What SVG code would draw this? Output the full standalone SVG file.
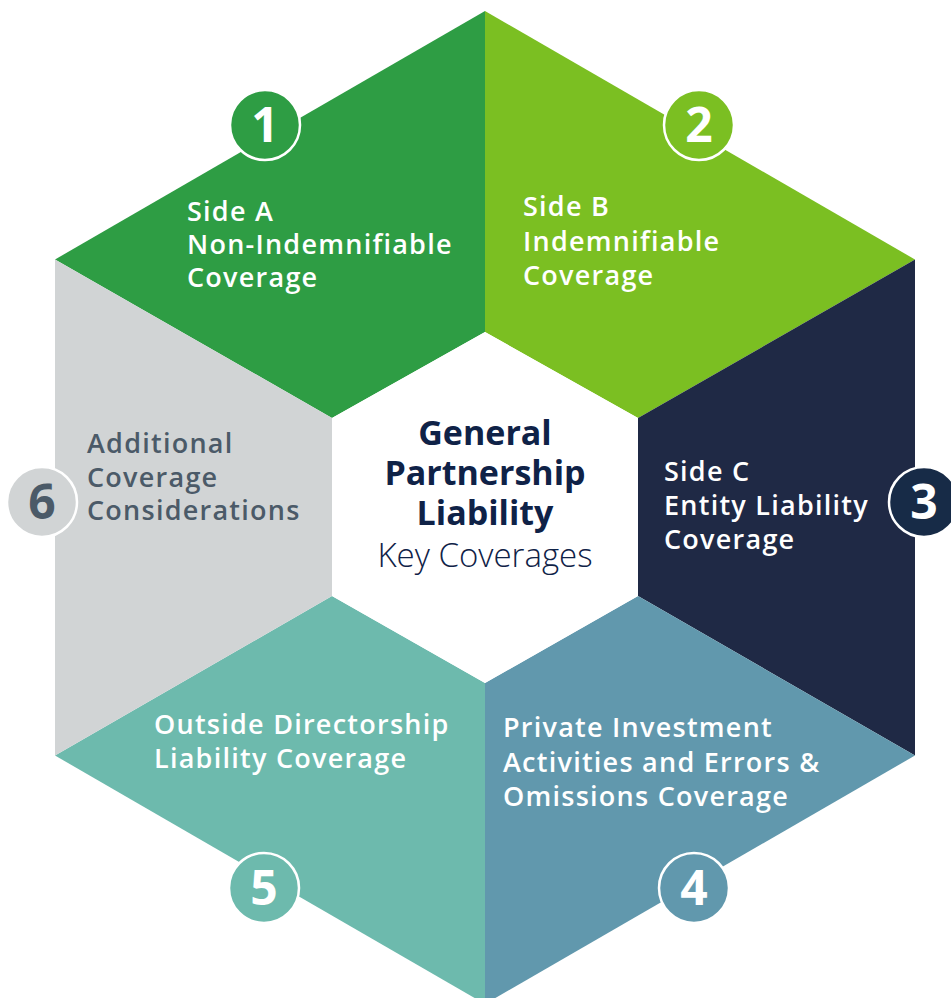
<svg xmlns="http://www.w3.org/2000/svg" width="951" height="998" viewBox="0 0 951 998">
  <style>
    .seg { stroke: none; }
    .lbl { font-family: "Open Sans", "Liberation Sans", sans-serif; font-weight: 600; font-size: 27px; letter-spacing: 1.25px; fill: #ffffff; }
    .lbl-dark { fill: #4b5a68; }
    .badge { stroke: #ffffff; stroke-width: 2.5; }
    .num { font-family: "Open Sans", "Liberation Sans", sans-serif; font-weight: 700; font-size: 48px; fill: #ffffff; text-anchor: middle; }
    .title { font-family: "Open Sans", "Liberation Sans", sans-serif; font-weight: 700; font-size: 34px; fill: #0f2247; text-anchor: middle; }
    .subtitle { font-family: "Open Sans", "Liberation Sans", sans-serif; font-weight: 300; font-size: 33px; fill: #0f2247; text-anchor: middle; }
  </style>

  <!-- Segment 1: Side A -->
  <g id="node-1">
    <polygon class="seg" fill="#2e9d44" points="485,11 55,259.5 332,418 485,332"/>
    <text class="lbl" x="187" y="221">Side A</text>
    <text class="lbl" x="187" y="254">Non-Indemnifiable</text>
    <text class="lbl" x="187" y="287">Coverage</text>
    <circle class="badge" cx="265" cy="125" r="35" fill="#2e9d44"/>
    <text class="num" x="265" y="142">1</text>
  </g>

  <!-- Segment 2: Side B -->
  <g id="node-2">
    <polygon class="seg" fill="#7bbf22" points="485,11 915,259.5 638,418 485,332"/>
    <text class="lbl" x="523" y="216">Side B</text>
    <text class="lbl" x="523" y="251">Indemnifiable</text>
    <text class="lbl" x="523" y="285">Coverage</text>
    <circle class="badge" cx="699" cy="125" r="35" fill="#7bbf22"/>
    <text class="num" x="699" y="142">2</text>
  </g>

  <!-- Segment 3: Side C -->
  <g id="node-3">
    <polygon class="seg" fill="#1f2945" points="915,259.5 915,755.5 638,596 638,418"/>
    <text class="lbl" x="664" y="481">Side C</text>
    <text class="lbl" x="664" y="515">Entity Liability</text>
    <text class="lbl" x="664" y="549">Coverage</text>
    <circle class="badge" cx="924" cy="502" r="35" fill="#172b47"/>
    <text class="num" x="924" y="519">3</text>
  </g>

  <!-- Segment 4: Private Investment -->
  <g id="node-4">
    <polygon class="seg" fill="#6198ad" points="915,755.5 485,1004 485,683 638,596"/>
    <text class="lbl" x="503" y="737">Private Investment</text>
    <text class="lbl" x="503" y="772">Activities and Errors &amp;</text>
    <text class="lbl" x="503" y="806">Omissions Coverage</text>
    <circle class="badge" cx="694" cy="888" r="35" fill="#6198ad"/>
    <text class="num" x="694" y="905">4</text>
  </g>

  <!-- Segment 5: Outside Directorship -->
  <g id="node-5">
    <polygon class="seg" fill="#6dbaad" points="485,1004 55,755.5 332,596 485,683"/>
    <text class="lbl" x="154" y="734">Outside Directorship</text>
    <text class="lbl" x="154" y="768">Liability Coverage</text>
    <circle class="badge" cx="264" cy="888" r="35" fill="#6dbaad"/>
    <text class="num" x="264" y="905">5</text>
  </g>

  <!-- Segment 6: Additional -->
  <g id="node-6">
    <polygon class="seg" fill="#d1d4d5" points="55,755.5 55,259.5 332,418 332,596"/>
    <text class="lbl lbl-dark" x="87" y="453">Additional</text>
    <text class="lbl lbl-dark" x="87" y="487">Coverage</text>
    <text class="lbl lbl-dark" x="87" y="520">Considerations</text>
    <circle class="badge" cx="42" cy="502" r="35" fill="#d1d4d5"/>
    <text class="num" x="42" y="519" style="fill:#4b5a68">6</text>
  </g>

  <!-- Centre hexagon -->
  <g id="node-center">
    <polygon fill="#ffffff" points="485,332 638,418 638,596 485,683 332,596 332,418"/>
    <text class="title" x="485" y="445">General</text>
    <text class="title" x="485" y="485">Partnership</text>
    <text class="title" x="485" y="525">Liability</text>
    <text class="subtitle" x="485" y="567">Key Coverages</text>
  </g>

  <g id="connectors"/>
</svg>
